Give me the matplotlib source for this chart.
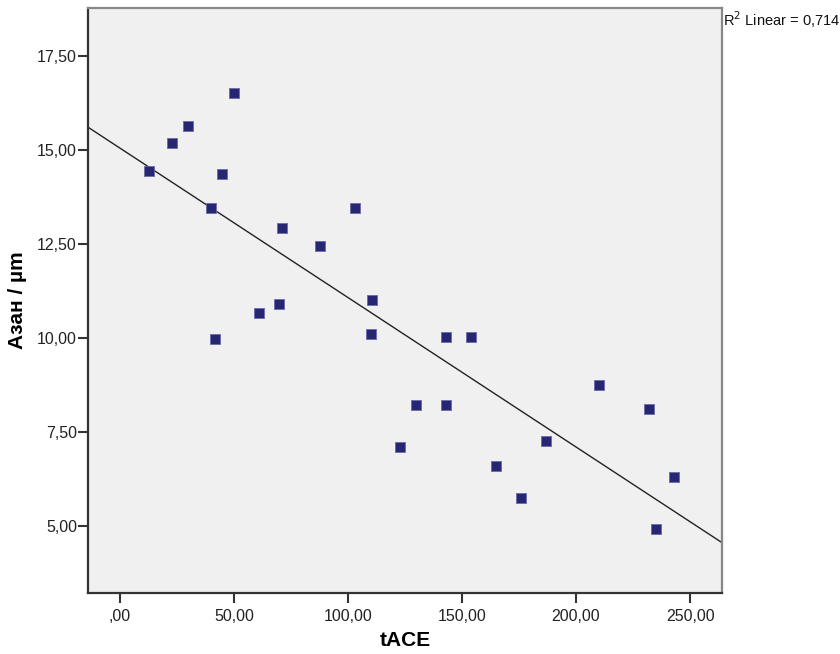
import numpy as np
import matplotlib
matplotlib.use("Agg")
import matplotlib.pyplot as plt
from matplotlib.ticker import FuncFormatter

plt.rcParams['font.family'] = ['Liberation Sans', 'DejaVu Sans']

tace = [12.7, 22.8, 29.8, 50.0, 44.7, 39.9, 41.7, 61.0, 69.7, 71.0, 87.7, 103.0, 110.0,
        110.5, 122.8, 129.8, 143.0, 143.0, 154.0, 165.0, 175.9, 186.8, 210.0, 232.0, 235.0, 243.0]
azan = [14.43, 15.20, 15.63, 16.53, 14.35, 13.45, 9.98, 10.66, 10.90, 12.92, 12.44, 13.45, 10.10,
        11.00, 7.09, 8.21, 10.02, 8.21, 10.02, 6.60, 5.75, 7.25, 8.74, 8.10, 4.91, 6.30]
x_ticks = [0, 50, 100, 150, 200, 250]
y_ticks = [5.0, 7.5, 10.0, 12.5, 15.0, 17.5]
r2_text = "R$^2$ Linear = 0,714"

fig = plt.figure(figsize=(8.4, 6.54), dpi=100)
ax_h = (592.7 - 8) / 654
ax = fig.add_axes([88/840, 1-592.7/654, (722-88)/840, ax_h])
ax.set_facecolor('#F0F0F0')

xmin, xmax = -14.0, 264.0
ax.set_xlim(xmin, xmax)
ax.set_ylim(3.22, 18.78)

slope, intercept = np.polyfit(tace, azan, 1)
xl = np.array([xmin, xmax])
ax.plot(xl, slope*xl + intercept, color='#222222', lw=1.0, zorder=2)

ax.scatter(tace, azan, marker='s', s=55, color='#262673', edgecolors='#6a6aa8',
           linewidths=0.6, zorder=3)

def fmt(v, pos):
    s = f"{v:.2f}".replace('.', ',')
    if s.startswith('0,'):
        s = s[1:]
    return s

ax.set_xticks(x_ticks)
ax.set_yticks(y_ticks)
ax.xaxis.set_major_formatter(FuncFormatter(fmt))
ax.yaxis.set_major_formatter(FuncFormatter(fmt))
ax.tick_params(direction='out', length=7, width=1.5, color='#333333',
               labelsize=11.5, labelcolor='#222222')
ax.tick_params(axis='y', pad=1)
ax.tick_params(axis='x', pad=5)
for side in ['left', 'bottom']:
    ax.spines[side].set_color('#333333')
    ax.spines[side].set_linewidth(1.6)
for side in ['top', 'right']:
    ax.spines[side].set_color('#888888')
    ax.spines[side].set_linewidth(1.6)

ax.set_xlabel('tACE', fontsize=15, fontweight='bold', va='center')
ax.set_ylabel('Азан / µm', fontsize=15, fontweight='bold', va='center')
ax.xaxis.set_label_coords(0.5, (592.7 - 641) / (592.7 - 8))
ax.yaxis.set_label_coords((18 - 88) / (722 - 88), 0.5)

fig.text(723/840, 1-20/654, r2_text, fontsize=10.5, ha='left', va='center', color='#111111')

fig.savefig('out.png', dpi=100)
